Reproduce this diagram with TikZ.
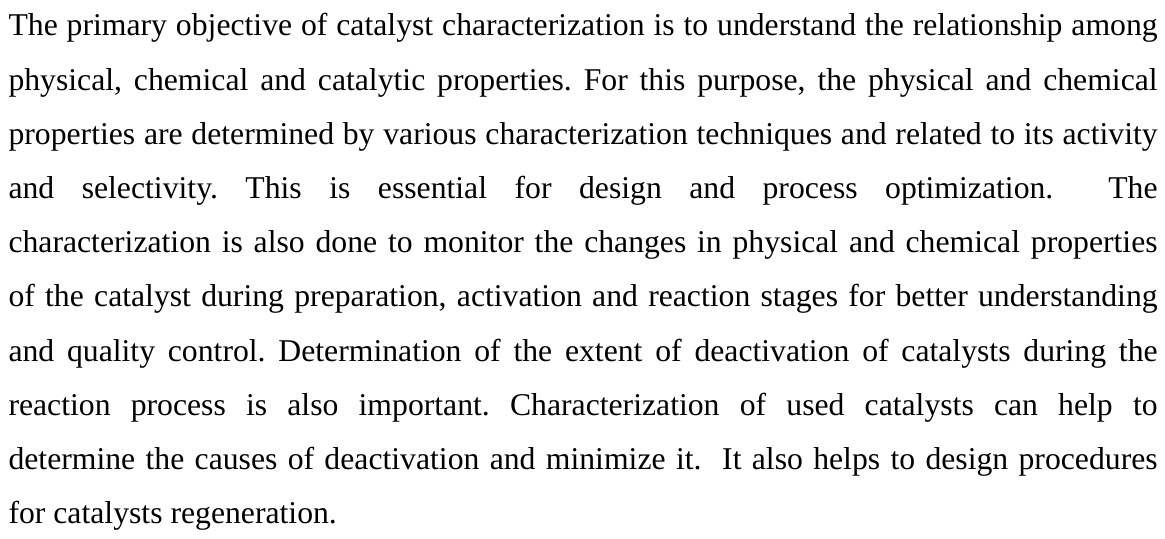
\documentclass[tikz,border=0pt]{standalone}
\usepackage{fontspec}
\setmainfont{Liberation Serif}

\newlength{\parawidth}
\setlength{\parawidth}{434.9pt}
% one justified line of the paragraph
\newcommand{\jline}[1]{\makebox[\parawidth][s]{#1}}

\tikzset{
  textline/.style={anchor=base west, inner sep=0pt,
    font=\fontsize{12}{14}\selectfont\frenchspacing},
}

\begin{document}
\begin{tikzpicture}[x=0.3785pt,y=0.3785pt]
\useasboundingbox (0,0) rectangle (1165,538);
\node[textline] (l1) at (8,502.0) {\jline{The primary objective of catalyst characterization is to understand the relationship among}};
\node[textline] (l2) at (8,447.8) {\jline{physical, chemical and catalytic properties. For this purpose, the physical and chemical}};
\node[textline] (l3) at (8,393.6) {\jline{properties are determined by various characterization techniques and related to its activity}};
\node[textline] (l4) at (8,339.4) {\jline{and selectivity. This is essential for design and process optimization.\ \ The}};
\node[textline] (l5) at (8,285.2) {\jline{characterization is also done to monitor the changes in physical and chemical properties}};
\node[textline] (l6) at (8,231.0) {\jline{of the catalyst during preparation, activation and reaction stages for better understanding}};
\node[textline] (l7) at (8,176.8) {\jline{and quality control. Determination of the extent of deactivation of catalysts during the}};
\node[textline] (l8) at (8,122.6) {\jline{reaction process is also important. Characterization of used catalysts can help to}};
\node[textline] (l9) at (8,68.4) {\jline{determine the causes of deactivation and minimize it.\ \ It also helps to design procedures}};
\node[textline] (l10) at (8,14.2) {for catalysts regeneration.};
\end{tikzpicture}
\end{document}
